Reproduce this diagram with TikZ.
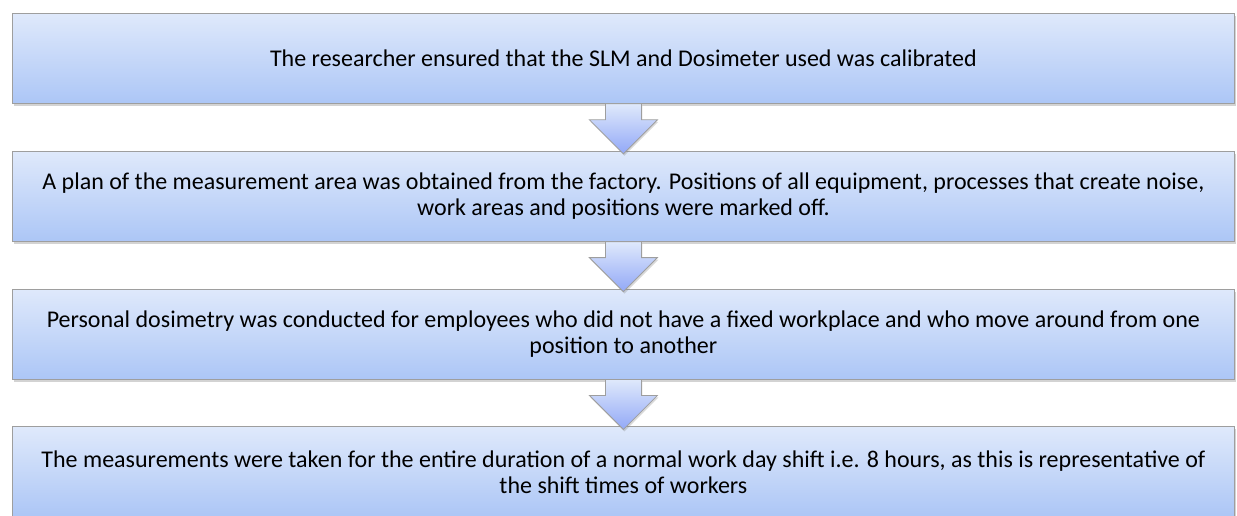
\documentclass[tikz,border=0pt]{standalone}
\usepackage{fontspec}
\setmainfont{Carlito}
\usetikzlibrary{positioning,shadows}
\definecolor{boxtop}{RGB}{223,233,251}
\definecolor{boxbottom}{RGB}{172,198,246}
\definecolor{boxline}{RGB}{158,158,158}

\begin{document}
\begin{tikzpicture}[x=1pt, y=1pt, line width=0.8pt, node distance=47pt,
  box/.style={rectangle, draw=boxline, top color=boxtop, bottom color=boxbottom,
              minimum width=1222pt, minimum height=90pt, align=center,
              drop shadow={shadow xshift=1.5pt, shadow yshift=-2.5pt, opacity=0.35}},
  flow/.style={draw=boxline, top color=boxtop, bottom color=boxbottom!85!blue,
              drop shadow={shadow xshift=1pt, shadow yshift=-2pt, opacity=0.3}}]
\tikzstyle{every node}=[font=\fontsize{24pt}{26pt}\selectfont]

\useasboundingbox (0,0) rectangle (1237,-515);

\node [box, anchor=north west] (calib) at (12,-13) {The researcher ensured that the SLM and Dosimeter used was calibrated};
\node [box] (plan) [below=of calib] {A plan of the measurement area was obtained from the factory. Positions of all equipment, processes that create noise,\\ work areas and positions were marked off.};
\node [box] (dosi) [below=of plan] {Personal dosimetry was conducted for employees who did not have a fixed workplace and who move around from one\\ position to another};
\node [box] (meas) [below=of dosi] {The measurements were taken for the entire duration of a normal work day shift i.e. 8 hours, as this is representative of\\ the shift times of workers};

% block arrows
\draw [flow] ([xshift=-18pt]calib.south) -- ++(0,-16) -- ++(-16,0) -- ([yshift=-3pt]plan.north) -- ++(34,34) -- ++(-16,0) -- ([xshift=18pt]calib.south) -- cycle;
\draw [flow] ([xshift=-18pt]plan.south) -- ++(0,-16) -- ++(-16,0) -- ([yshift=-3pt]dosi.north) -- ++(34,34) -- ++(-16,0) -- ([xshift=18pt]plan.south) -- cycle;
\draw [flow] ([xshift=-18pt]dosi.south) -- ++(0,-16) -- ++(-16,0) -- ([yshift=-3pt]meas.north) -- ++(34,34) -- ++(-16,0) -- ([xshift=18pt]dosi.south) -- cycle;
\end{tikzpicture}
\end{document}
